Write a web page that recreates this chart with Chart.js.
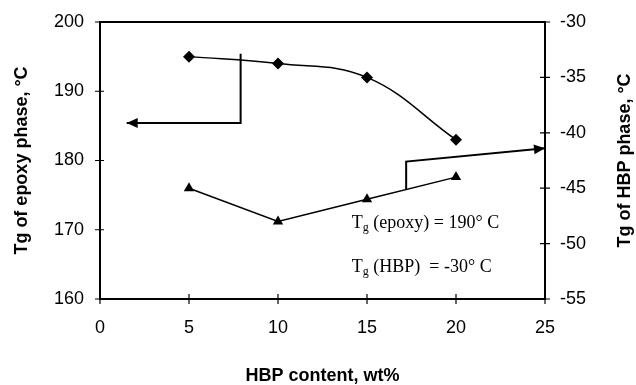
<!DOCTYPE html>
<html>
<head>
<meta charset="utf-8">
<script src="https://cdn.jsdelivr.net/npm/chart.js@4.4.0/dist/chart.umd.min.js"></script>
<style>
  html, body { margin: 0; padding: 0; background: #fff; }
  #wrap { width: 636px; height: 385px; }
</style>
</head>
<body>
<div id="wrap"><canvas id="tg" width="636" height="385"></canvas></div>
<script>
// HBP content (wt%)
var contenido = [5, 10, 15, 20];
// Tg of epoxy phase (left axis, °C)
var tgEpoxy = [195, 194, 192, 183];
// Tg of HBP phase (right axis, °C)
var tgHBP = [-45, -48, -46, -44];

var xTicks = [0, 5, 10, 15, 20, 25];
var yTicks = [160, 170, 180, 190, 200];
var y1Ticks = [-55, -50, -45, -40, -35, -30];

// flechas de anotacion, en unidades de datos
var flechaEpoxy = { eje: 'y', pts: [[7.9, 195.4], [7.9, 185.4], [1.5, 185.4]] };
var flechaHBP = { eje: 'y1', pts: [[17.2, -45.1], [17.2, -42.6], [25, -41.4]] };

var notas = [
  { x: 14.15, y: 171, base: 'T', sub: 'g', resto: ' (epoxy) = 190\u00b0 C' },
  { x: 14.15, y: 164.6, base: 'T', sub: 'g', resto: ' (HBP)  = -30\u00b0 C' }
];

var sans = "'Liberation Sans', Arial, sans-serif";
var serif = "'Liberation Serif', 'Times New Roman', serif";

function puntos(xs, ys) {
  var out = [];
  for (var i = 0; i < xs.length; i++) out.push({ x: xs[i], y: ys[i] });
  return out;
}

function punta(ctx, x0, y0, x1, y1) {
  var ang = Math.atan2(y1 - y0, x1 - x0);
  var L = 11, W = 5;
  ctx.beginPath();
  ctx.moveTo(x1, y1);
  ctx.lineTo(x1 - L * Math.cos(ang) + W * Math.sin(ang), y1 - L * Math.sin(ang) - W * Math.cos(ang));
  ctx.lineTo(x1 - L * Math.cos(ang) - W * Math.sin(ang), y1 - L * Math.sin(ang) + W * Math.cos(ang));
  ctx.closePath();
  ctx.fill();
}

const extras = {
  id: 'extras',
  afterDraw(chart) {
    const ctx = chart.ctx;
    const a = chart.chartArea;
    const sx = chart.scales.x, sy = chart.scales.y, sy1 = chart.scales.y1;
    ctx.save();
    ctx.strokeStyle = '#000';
    ctx.fillStyle = '#000';

    // borde superior
    ctx.lineWidth = 2;
    ctx.beginPath();
    ctx.moveTo(a.left, a.top);
    ctx.lineTo(a.right, a.top);
    ctx.stroke();

    // marcas de eje cruzadas
    ctx.lineWidth = 1.2;
    ctx.beginPath();
    xTicks.forEach(function (v) {
      var px = sx.getPixelForValue(v);
      ctx.moveTo(px, a.bottom - 5); ctx.lineTo(px, a.bottom + 5);
    });
    yTicks.forEach(function (v) {
      var py = sy.getPixelForValue(v);
      ctx.moveTo(a.left - 5, py); ctx.lineTo(a.left + 4, py);
    });
    y1Ticks.forEach(function (v) {
      var py = sy1.getPixelForValue(v);
      ctx.moveTo(a.right - 5, py); ctx.lineTo(a.right + 5, py);
    });
    ctx.stroke();

    // flechas
    [flechaEpoxy, flechaHBP].forEach(function (f) {
      var sc = chart.scales[f.eje];
      var p = f.pts.map(function (q) { return [sx.getPixelForValue(q[0]), sc.getPixelForValue(q[1])]; });
      ctx.lineWidth = 2;
      ctx.beginPath();
      ctx.moveTo(p[0][0], p[0][1]);
      for (var i = 1; i < p.length; i++) ctx.lineTo(p[i][0], p[i][1]);
      ctx.stroke();
      var n = p.length;
      punta(ctx, p[n - 2][0], p[n - 2][1], p[n - 1][0], p[n - 1][1]);
    });

    // textos Tg
    ctx.textBaseline = 'middle';
    ctx.textAlign = 'left';
    notas.forEach(function (t) {
      var px = sx.getPixelForValue(t.x), py = sy.getPixelForValue(t.y);
      ctx.font = '18px ' + serif;
      ctx.fillText(t.base, px, py);
      var w = ctx.measureText(t.base).width;
      ctx.font = '12px ' + serif;
      ctx.fillText(t.sub, px + w, py + 5);
      var w2 = ctx.measureText(t.sub).width;
      ctx.font = '18px ' + serif;
      ctx.fillText(t.resto, px + w + w2, py);
    });

    // titulo del eje derecho (lee de abajo hacia arriba)
    ctx.font = 'bold 18px ' + sans;
    ctx.textAlign = 'center';
    ctx.translate(625, (a.top + a.bottom) / 2);
    ctx.rotate(-Math.PI / 2);
    ctx.fillText('Tg of HBP phase, \u00b0C', 0, 0);
    ctx.restore();
  }
};

function anchoFijo(w) {
  return function (s) { s.width = w; s.paddingTop = 0; s.paddingBottom = 0; };
}

var ctx = document.getElementById('tg').getContext('2d');
var grafica = new Chart(ctx, {
  type: 'line',
  data: {
    datasets: [
      {
        label: 'Tg epoxy',
        data: puntos(contenido, tgEpoxy),
        yAxisID: 'y',
        borderColor: '#000',
        backgroundColor: '#000',
        borderWidth: 1.5,
        tension: 0.4,
        pointStyle: 'rectRot',
        pointRadius: 6,
        pointBorderWidth: 0
      },
      {
        label: 'Tg HBP',
        data: puntos(contenido, tgHBP),
        yAxisID: 'y1',
        borderColor: '#000',
        backgroundColor: '#000',
        borderWidth: 1.5,
        tension: 0,
        pointStyle: 'triangle',
        pointRadius: 6,
        pointBorderWidth: 0
      }
    ]
  },
  options: {
    responsive: false,
    animation: false,
    layout: { padding: { top: 22, left: 0, right: 0, bottom: 0 } },
    plugins: { legend: { display: false }, tooltip: { enabled: false } },
    scales: {
      x: {
        type: 'linear',
        min: 0, max: 25,
        afterFit: function (s) { s.height = 86; s.paddingLeft = 0; s.paddingRight = 0; },
        grid: { drawOnChartArea: false, drawTicks: false },
        border: { display: true, color: '#000', width: 2 },
        ticks: { stepSize: 5, padding: 18, color: '#000', font: { family: sans, size: 18 } },
        title: { display: true, text: 'HBP content, wt%', color: '#000', padding: { top: 0, bottom: -2 }, font: { family: sans, size: 18, weight: 'bold' } }
      },
      y: {
        position: 'left',
        min: 160, max: 200,
        afterFit: anchoFijo(100),
        grid: { drawOnChartArea: false, drawTicks: false },
        border: { display: true, color: '#000', width: 2 },
        ticks: { stepSize: 10, padding: 16, color: '#000', font: { family: sans, size: 18 } },
        title: { display: true, text: 'Tg of epoxy phase, \u00b0C', color: '#000', padding: { top: 11, bottom: 0 }, font: { family: sans, size: 18, weight: 'bold' } }
      },
      y1: {
        position: 'right',
        min: -55, max: -30,
        afterFit: anchoFijo(91),
        grid: { drawOnChartArea: false, drawTicks: false },
        border: { display: true, color: '#000', width: 2 },
        ticks: { stepSize: 5, padding: 15, color: '#000', font: { family: sans, size: 18 } }
      }
    }
  },
  plugins: [extras]
});
</script>
</body>
</html>
